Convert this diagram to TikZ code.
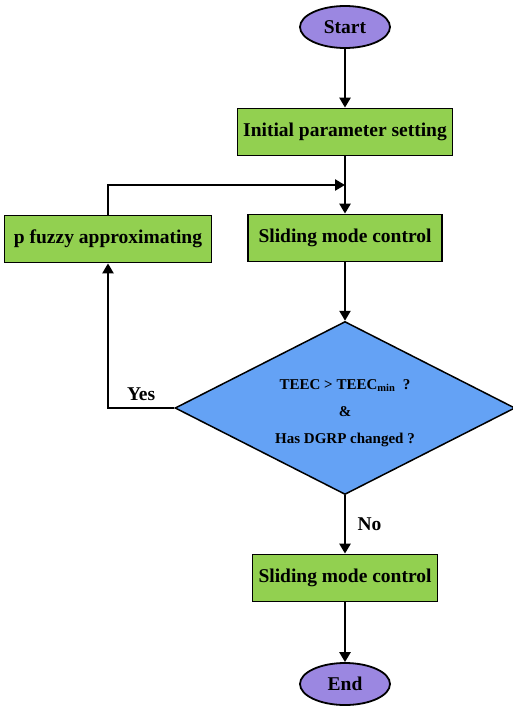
\documentclass[tikz,border=0pt]{standalone}
\usepackage{fontspec}
\setmainfont{Liberation Serif}
\usepackage{xcolor}
\usepackage{tikz}
\usetikzlibrary{shapes.geometric,arrows.meta,positioning}
\definecolor{boxgreen}{RGB}{146,208,80}
\definecolor{termpurple}{RGB}{155,135,225}
\definecolor{decblue}{RGB}{100,162,245}

\begin{document}
\begin{tikzpicture}[
    x=1pt, y=-1pt,
    term/.style={ellipse, draw=black, line width=1.8pt, fill=termpurple, minimum width=90pt, minimum height=42pt, inner sep=0pt, font=\fontsize{19.5}{22}\selectfont\bfseries},
    procbox/.style={rectangle, draw=black, line width=1.8pt, fill=boxgreen, minimum height=47pt, inner sep=0pt, font=\fontsize{19.5}{22}\selectfont\bfseries},
    decision/.style={diamond, aspect=2, draw=black, line width=1.5pt, fill=decblue, minimum width=340pt, minimum height=173pt, inner sep=0pt, align=center, font=\fontsize{15}{18}\selectfont\bfseries},
    arrow/.style={-{Triangle[length=10pt, width=11pt]}, line width=2.6pt, black},
    branch/.style={font=\fontsize{19.5}{22}\selectfont\bfseries}
]
\useasboundingbox (0,0) rectangle (512,707);
% terminals and process boxes
\node[term] (start) at (345,27) {Start};
\node[procbox, minimum width=215pt] (init) at (345,132) {Initial parameter setting};
\node[procbox, minimum width=194pt] (smc1) at (345,238) {Sliding mode control};
\node[procbox, minimum width=207pt] (fuzzy) at (108,239) {p fuzzy approximating};
% decision
\node[decision] (dec) at (345,408) {\rule{0pt}{20pt}TEEC > TEEC\textsubscript{min}\ \ ?\\[9pt] \&\\[9pt] Has DGRP changed ?};
\node[procbox, minimum width=185pt] (smc2) at (345,578) {Sliding mode control};
\node[term] (end) at (345,684) {End};
\coordinate (merge) at (345,185);
% connectors
\draw[arrow] (start) -- (init);
\draw[arrow] (init) -- (smc1);
\draw[arrow] (fuzzy.north) |- (merge);
\draw[arrow] (smc1) -- (dec);
\draw[arrow] (dec.west) -| node[pos=0.25, above=3pt, branch] {Yes} (fuzzy.south);
\draw[arrow] (dec.south) -- node[right=8pt, branch] {No} (smc2);
\draw[arrow] (smc2) -- (end);
\end{tikzpicture}
\end{document}
